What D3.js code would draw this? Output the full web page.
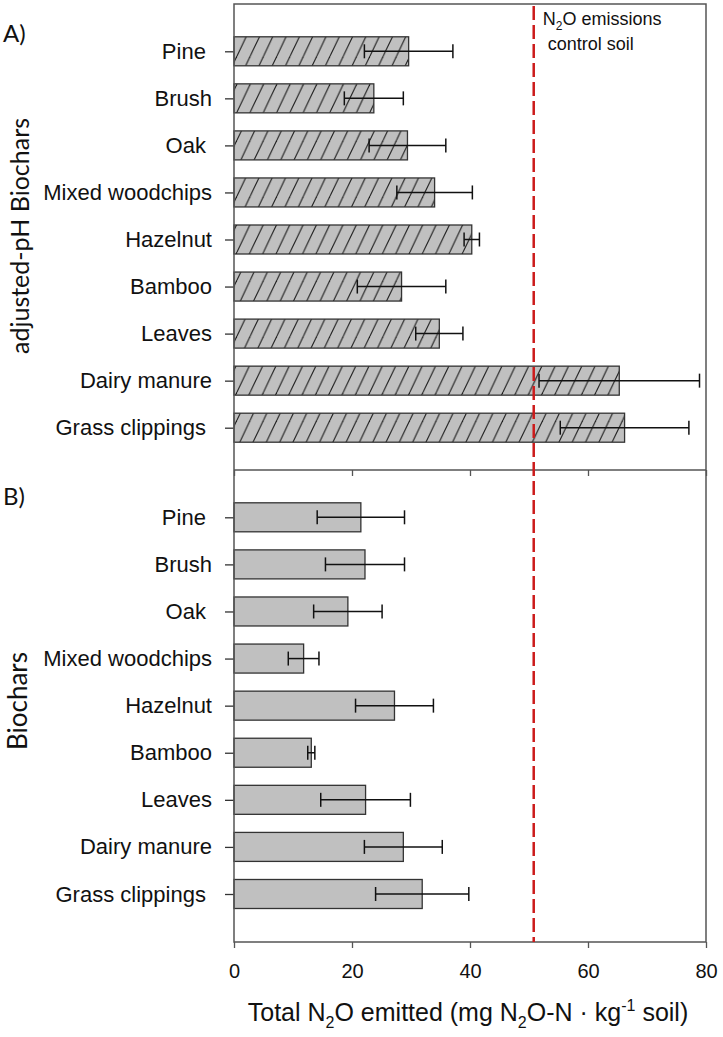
<!DOCTYPE html>
<html>
<head>
<meta charset="utf-8">
<script src="https://cdn.jsdelivr.net/npm/d3@7"></script>
<style>
  html, body { margin: 0; padding: 0; background: #fff; }
  svg { display: block; }
  text { font-family: "Liberation Sans", Arial, sans-serif; fill: #111; }
</style>
</head>
<body>
<svg id="chart" width="723" height="1037"></svg>
<script>
// ---- data ----
const categories = ["Pine ", "Brush", "Oak ", "Mixed woodchips", "Hazelnut", "Bamboo", "Leaves", "Dairy manure", "Grass clippings "];
const adjustedMeans = [29.6, 23.7, 29.4, 34.0, 40.3, 28.4, 34.8, 65.3, 66.2];
const adjustedSD    = [7.5, 5.0, 6.5, 6.4, 1.3, 7.5, 4.0, 13.6, 10.9];
const biocharMeans  = [21.5, 22.2, 19.3, 11.8, 27.2, 13.1, 22.3, 28.7, 31.9];
const biocharSD     = [7.4, 6.7, 5.8, 2.6, 6.6, 0.6, 7.6, 6.6, 7.9];
const controlSoil = 50.8;
const xTicks = [0, 20, 40, 60, 80];
const panelLabels = ["A)", "B)"];
const panelTitles = ["adjusted-pH Biochars", "Biochars"];

(function () {
const svg = d3.select("#chart");
const pLeft = 234, pRight = 706;
const pTop = 4, pMid = 470, pBottom = 942;

const x = d3.scaleLinear().domain([0, 80]).range([pLeft, pRight]);

const yTop = d3.scalePoint().domain(categories).range([51.3, 427.7]);
const yBot = d3.scalePoint().domain(categories).range([517.3, 894]);
const barH = 29;

// hatch pattern
const defs = svg.append("defs");
const pw = 13.3, ph = 28;
const pat = defs.append("pattern")
  .attr("id", "hatch")
  .attr("patternUnits", "userSpaceOnUse")
  .attr("width", pw).attr("height", ph)
  .attr("x", pLeft + 3).attr("y", 0);
pat.append("rect").attr("width", pw).attr("height", ph).attr("fill", "#c0c0c0");
[-pw, 0, pw].forEach(ox => {
  pat.append("line")
    .attr("x1", ox).attr("y1", ph)
    .attr("x2", ox + pw).attr("y2", 0)
    .attr("stroke", "#1a1a1a").attr("stroke-width", 1.1);
});

function drawPanel(y, means, sds, fill) {
  const g = svg.append("g");
  const data = categories.map((c, i) => ({ c, m: means[i], s: sds[i] }));
  g.selectAll("rect.bar").data(data).join("rect")
    .attr("class", "bar")
    .attr("x", x(0))
    .attr("y", d => y(d.c) - barH / 2)
    .attr("width", d => x(d.m) - x(0))
    .attr("height", barH)
    .attr("fill", fill)
    .attr("stroke", "#333")
    .attr("stroke-width", 1.3);
  const eb = g.selectAll("g.err").data(data).join("g").attr("class", "err");
  eb.append("line")
    .attr("x1", d => x(d.m - d.s)).attr("x2", d => x(d.m + d.s))
    .attr("y1", d => y(d.c)).attr("y2", d => y(d.c))
    .attr("stroke", "#111").attr("stroke-width", 1.5);
  eb.append("line")
    .attr("x1", d => x(d.m - d.s)).attr("x2", d => x(d.m - d.s))
    .attr("y1", d => y(d.c) - 7).attr("y2", d => y(d.c) + 7)
    .attr("stroke", "#111").attr("stroke-width", 1.5);
  eb.append("line")
    .attr("x1", d => x(d.m + d.s)).attr("x2", d => x(d.m + d.s))
    .attr("y1", d => y(d.c) - 7).attr("y2", d => y(d.c) + 7)
    .attr("stroke", "#111").attr("stroke-width", 1.5);
  const ay = svg.append("g")
    .attr("transform", `translate(${pLeft},0)`)
    .call(d3.axisLeft(y).tickSize(9).tickPadding(13));
  ay.select(".domain").remove();
  ay.selectAll(".tick line").attr("stroke", "#333").attr("stroke-width", 1.3);
  ay.selectAll(".tick text")
    .style("font-size", "22px")
    .style("white-space", "pre")
    .attr("fill", "#111");
}

drawPanel(yTop, adjustedMeans, adjustedSD, "url(#hatch)");
drawPanel(yBot, biocharMeans, biocharSD, "#c0c0c0");

const axMid = svg.append("g")
  .attr("transform", `translate(0,${pMid})`)
  .call(d3.axisBottom(x).tickValues(xTicks).tickSize(6).tickFormat(""));
axMid.select(".domain").remove();
axMid.selectAll(".tick line").attr("stroke", "#555").attr("stroke-width", 1.3);

const axB = svg.append("g")
  .attr("transform", `translate(0,${pBottom})`)
  .call(d3.axisBottom(x).tickValues(xTicks).tickSize(6).tickPadding(16));
axB.select(".domain").remove();
axB.selectAll(".tick line").attr("stroke", "#555").attr("stroke-width", 1.3);
axB.selectAll(".tick text").style("font-size", "20px").attr("fill", "#111");

svg.append("rect")
  .attr("x", pLeft).attr("y", pTop)
  .attr("width", pRight - pLeft).attr("height", pBottom - pTop)
  .attr("fill", "none").attr("stroke", "#555").attr("stroke-width", 1.5);
svg.append("line")
  .attr("x1", pLeft).attr("x2", pRight).attr("y1", pMid).attr("y2", pMid)
  .attr("stroke", "#555").attr("stroke-width", 1.5);

svg.append("line")
  .attr("x1", x(controlSoil)).attr("x2", x(controlSoil))
  .attr("y1", pTop + 2).attr("y2", pBottom)
  .attr("stroke", "#cc1b1b").attr("stroke-width", 2.5)
  .attr("stroke-dasharray", "14,5");

const ctl = svg.append("text")
  .attr("x", x(controlSoil) + 9).attr("y", 25)
  .style("font-size", "18px");
ctl.append("tspan").text("N");
ctl.append("tspan").text("2").style("font-size", "12px").attr("dy", 5);
ctl.append("tspan").text("O emissions").attr("dy", -5);
svg.append("text")
  .attr("x", x(controlSoil) + 14).attr("y", 50)
  .style("font-size", "18px")
  .text("control soil");

svg.append("text").attr("x", 3).attr("y", 42)
  .style("font-family", "Lato, 'Open Sans', sans-serif").style("font-size", "24px")
  .text(panelLabels[0]);
svg.append("text").attr("x", 3).attr("y", 505)
  .style("font-family", "Lato, 'Open Sans', sans-serif").style("font-size", "24px")
  .text(panelLabels[1]);

svg.append("text")
  .attr("transform", `translate(29,236) rotate(-90)`)
  .attr("text-anchor", "middle")
  .style("font-family", "Lato, 'Open Sans', sans-serif").style("font-size", "25px")
  .text(panelTitles[0]);
svg.append("text")
  .attr("transform", `translate(27,701) rotate(-90)`)
  .attr("text-anchor", "middle")
  .style("font-family", "Lato, 'Open Sans', sans-serif").style("font-size", "26px")
  .text(panelTitles[1]);

const xt = svg.append("text")
  .attr("x", 468).attr("y", 1021)
  .attr("text-anchor", "middle")
  .style("font-size", "25px");
xt.append("tspan").text("Total N");
xt.append("tspan").text("2").style("font-size", "16px").attr("dy", 7);
xt.append("tspan").text("O emitted (mg N").attr("dy", -7);
xt.append("tspan").text("2").style("font-size", "16px").attr("dy", 7);
xt.append("tspan").text("O-N \u00B7 kg").attr("dy", -7);
xt.append("tspan").text("-1").style("font-size", "16px").attr("dy", -10);
xt.append("tspan").text(" soil)").attr("dy", 10);
})();
</script>
</body>
</html>
